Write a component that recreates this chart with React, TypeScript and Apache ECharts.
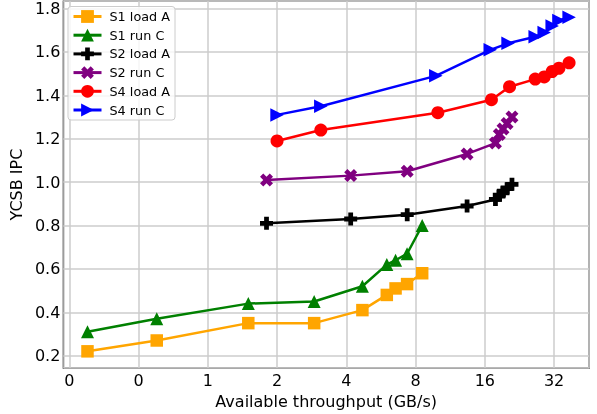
import React, { useEffect, useRef } from "react";
import * as echarts from "echarts";

const xTicks = [0.25, 0.5, 1, 2, 4, 8, 16, 32];
const xTickLabels = ["0", "0", "1", "2", "4", "8", "16", "32"];

const s1X = [0.3, 0.6, 1.5, 2.9, 4.7, 6.0, 6.55, 7.35, 8.55];
const s1LoadA = [0.22, 0.27, 0.35, 0.35, 0.41, 0.48, 0.51, 0.53, 0.58];
const s1RunC = [0.31, 0.37, 0.44, 0.45, 0.52, 0.62, 0.64, 0.67, 0.8];

const s2X = [1.8, 4.18, 7.36, 13.4, 17.8, 18.5, 19.2, 20.0, 21.0];
const s2LoadA = [0.81, 0.83, 0.85, 0.89, 0.92, 0.94, 0.955, 0.97, 0.99];
const s2RunC = [1.01, 1.03, 1.05, 1.13, 1.18, 1.22, 1.245, 1.27, 1.3];

const s4LoadX = [2.0, 3.1, 10.0, 17.1, 20.5, 26.5, 29.0, 31.4, 33.6, 37.2];
const s4LoadA = [1.19, 1.24, 1.32, 1.38, 1.44, 1.475, 1.485, 1.51, 1.525, 1.55];
const s4RunX = [2.0, 3.1, 9.8, 16.9, 20.2, 26.5, 29.0, 31.4, 33.6, 37.2];
const s4RunC = [1.31, 1.35, 1.49, 1.61, 1.64, 1.67, 1.69, 1.72, 1.745, 1.76];

const pair = (xs: number[], ys: number[]) => xs.map((x, i) => [x, ys[i]]);

const PLUS = "path://M3.8,0H8.2V3.8H12V8.2H8.2V12H3.8V8.2H0V3.8H3.8Z";
const XMARK = "path://M0,3L3,0L6,3L9,0L12,3L9,6L12,9L9,12L6,9L3,12L0,9L3,6Z";
const RTRI = "path://M0,0L10,5L0,10Z";

const FONT = "DejaVu Sans";

export default function App() {
  const ref = useRef<HTMLDivElement>(null);
  useEffect(() => {
    if (!ref.current) return;
    const chart = echarts.init(ref.current, null, { renderer: "svg" });
    const mk = (name: string, data: number[][], color: string, symbol: string, size: number) => ({
      name,
      type: "line",
      data,
      symbol,
      symbolSize: size,
      showSymbol: true,
      lineStyle: { color, width: 2.5 },
      itemStyle: { color, borderWidth: 0 },
      emphasis: { disabled: true },
    });
    chart.setOption({
      animation: false,
      textStyle: { fontFamily: FONT },
      grid: {
        left: 62,
        right: 8,
        top: 1,
        bottom: 41,
        show: true,
        borderColor: "#000",
        borderWidth: 1.2,
        backgroundColor: "transparent",
      },
      legend: {
        left: 68,
        top: 6.5,
        orient: "vertical",
        padding: [2, 5, 2, 4],
        itemWidth: 28,
        itemHeight: 16,
        itemGap: 2.7,
        backgroundColor: "rgba(255,255,255,0.8)",
        borderColor: "#cccccc",
        borderWidth: 1,
        borderRadius: 3,
        lineStyle: { width: 3 },
        textStyle: { fontFamily: FONT, fontSize: 12.8, color: "#000", lineHeight: 16, padding: [0, 0, 0, 3] },
        data: ["S1 load A", "S1 run C", "S2 load A", "S2 run C", "S4 load A", "S4 run C"],
      },
      xAxis: {
        type: "log",
        logBase: 2,
        min: 0.2356,
        max: 45.4,
        name: "Available throughput (GB/s)",
        nameLocation: "middle",
        nameGap: 17,
        nameTextStyle: { fontFamily: FONT, fontSize: 16, color: "#000", verticalAlign: "top" },
        axisLine: { show: false },
        axisTick: { show: false },
        splitLine: { show: true, lineStyle: { color: "#cccccc", width: 1.5 } },
        axisLabel: {
          fontFamily: FONT,
          fontSize: 16,
          color: "#000",
          margin: 4,
          showMinLabel: false,
          showMaxLabel: false,
          formatter: (v: number) => {
            const i = xTicks.findIndex((t) => Math.abs(t - v) < 1e-6 * Math.max(1, t));
            return i >= 0 ? xTickLabels[i] : "";
          },
        },
      },
      yAxis: {
        type: "value",
        min: 0.1427,
        max: 1.835,
        splitNumber: 8,
        name: "YCSB IPC",
        nameLocation: "middle",
        nameGap: 33,
        nameTextStyle: { fontFamily: FONT, fontSize: 16, color: "#000" },
        axisLine: { show: false },
        axisTick: { show: false },
        splitLine: { show: true, lineStyle: { color: "#cccccc", width: 1.5 } },
        axisLabel: {
          fontFamily: FONT,
          fontSize: 16,
          color: "#000",
          margin: 3,
          showMinLabel: false,
          showMaxLabel: false,
          formatter: (v: number) => v.toFixed(1),
        },
      },
      series: [
        mk("S1 load A", pair(s1X, s1LoadA), "#FFA500", "rect", 12.5),
        mk("S1 run C", pair(s1X, s1RunC), "#008000", "triangle", 13),
        mk("S2 load A", pair(s2X, s2LoadA), "#000000", PLUS, 13),
        mk("S2 run C", pair(s2X, s2RunC), "#800080", XMARK, 13),
        mk("S4 load A", pair(s4LoadX, s4LoadA), "#FF0000", "circle", 13),
        mk("S4 run C", pair(s4RunX, s4RunC), "#0000FF", RTRI, 13.5),
      ],
    });
    return () => chart.dispose();
  }, []);
  return <div ref={ref} style={{ position: "fixed", left: 0, top: 0, width: 597, height: 414 }} />;
}
